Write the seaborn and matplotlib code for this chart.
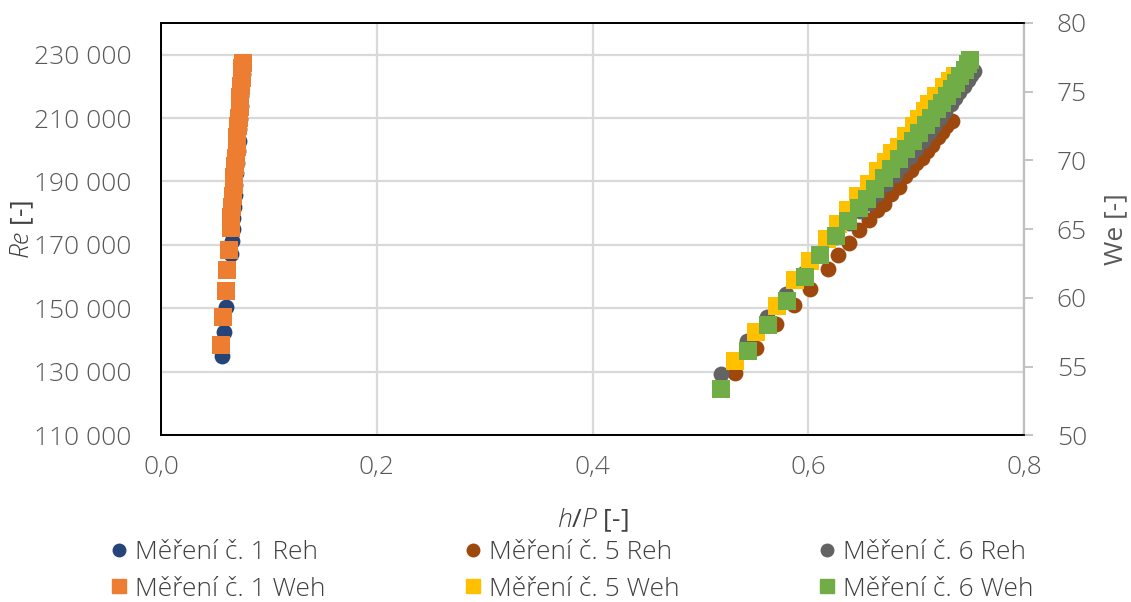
import matplotlib
matplotlib.use("Agg")
from matplotlib import pyplot as plt
from matplotlib.ticker import FuncFormatter, MultipleLocator
from matplotlib.lines import Line2D
import seaborn as sns
import pandas as pd

# Měření č. 1 (left cluster)
m1_reh_x = [0.0568, 0.0584, 0.0599, 0.0645, 0.0654, 0.0663, 0.0668, 0.0677, 0.0684, 0.0690, 0.0698,
            0.0703, 0.0712, 0.0718, 0.0726, 0.0731, 0.0740, 0.0745, 0.0753, 0.0758, 0.0764]
m1_reh_y = [135000, 142400, 150300, 167200, 171300, 175100, 178400, 182100, 185600, 188800, 192700,
            195900, 199600, 202800, 206600, 209800, 213700, 216800, 220600, 223900, 227000]
m1_weh_x = [0.0559, 0.0578, 0.0599, 0.0614, 0.0630, 0.0645, 0.0653, 0.0660, 0.0666, 0.0674, 0.0680,
            0.0688, 0.0693, 0.0701, 0.0707, 0.0715, 0.0720, 0.0729, 0.0734, 0.0743, 0.0748, 0.0755, 0.0759]
m1_weh_y = [56.6, 58.6, 60.5, 62.0, 63.5, 65.1, 65.9, 66.6, 67.4, 68.2, 68.8,
            69.6, 70.2, 71.0, 71.7, 72.5, 73.1, 73.9, 74.6, 75.4, 76.0, 76.7, 77.1]

# Měření č. 5
m5_reh_x = [0.532, 0.552, 0.570, 0.587, 0.602, 0.618, 0.628, 0.638, 0.647, 0.656, 0.664, 0.670,
            0.677, 0.684, 0.690, 0.695, 0.700, 0.705, 0.710, 0.715, 0.720, 0.724, 0.728, 0.733]
m5_reh_y = [129700, 137400, 145000, 151200, 156100, 162500, 166700, 170600, 174600, 177800, 180900, 183000,
            186200, 188300, 191800, 193600, 195700, 197500, 199700, 201600, 203900, 205600, 207500, 209200]
m5_weh_x = [0.532, 0.552, 0.571, 0.588, 0.602, 0.617, 0.628, 0.637, 0.646, 0.656, 0.665, 0.672,
            0.678, 0.684, 0.691, 0.698, 0.703, 0.708, 0.712, 0.718, 0.726, 0.731, 0.736]
m5_weh_y = [55.4, 57.5, 59.4, 61.3, 62.7, 64.3, 65.4, 66.4, 67.4, 68.3, 69.2, 69.9,
            70.5, 71.0, 71.8, 72.5, 73.0, 73.6, 74.1, 74.7, 75.3, 75.8, 76.1]

# Měření č. 6
m6_reh_x = [0.519, 0.543, 0.562, 0.579, 0.596, 0.611, 0.626, 0.638, 0.648, 0.656, 0.664, 0.672, 0.680, 0.687,
            0.694, 0.700, 0.706, 0.712, 0.717, 0.722, 0.727, 0.732, 0.736, 0.740, 0.744, 0.748, 0.751, 0.754]
m6_reh_y = [129300, 139800, 147400, 154600, 161000, 167000, 172400, 176800, 180600, 183100, 186000, 189200,
            192000, 194900, 197700, 200200, 202800, 205300, 207500, 210000, 212300, 214500, 216400, 218300,
            220200, 222100, 223700, 224900]
m6_weh_x = [0.519, 0.544, 0.563, 0.580, 0.597, 0.611, 0.626, 0.637, 0.647, 0.654, 0.662, 0.670, 0.677, 0.684,
            0.691, 0.697, 0.703, 0.709, 0.714, 0.719, 0.724, 0.729, 0.733, 0.737, 0.741, 0.745, 0.748, 0.750]
m6_weh_y = [53.4, 56.1, 58.0, 59.8, 61.5, 63.1, 64.5, 65.6, 66.5, 67.2, 67.9, 68.7, 69.4, 70.1,
            70.8, 71.4, 72.0, 72.6, 73.1, 73.7, 74.2, 74.7, 75.2, 75.6, 76.1, 76.6, 77.0, 77.3]

labels_reh = ["Měření č. 1 Reh", "Měření č. 5 Reh", "Měření č. 6 Reh"]
labels_weh = ["Měření č. 1 Weh", "Měření č. 5 Weh", "Měření č. 6 Weh"]
colors_reh = ["#264478", "#9E480E", "#636363"]
colors_weh = ["#ED7D31", "#FFC000", "#70AD47"]

sns.set_theme(style="white")
plt.rcParams["font.family"] = ["Open Sans", "DejaVu Sans"]
plt.rcParams["font.weight"] = "light"
plt.rcParams["mathtext.fontset"] = "custom"
plt.rcParams["mathtext.rm"] = "Open Sans:light"
plt.rcParams["mathtext.it"] = "Open Sans:italic:light"

txt = "#595959"
fs = 19

fig = plt.figure(figsize=(11.31, 6.02), dpi=100)
ax = fig.add_axes([0.1424, 0.277, 0.763, 0.685])
ax2 = ax.twinx()

reh = [(m1_reh_x, m1_reh_y), (m5_reh_x, m5_reh_y), (m6_reh_x, m6_reh_y)]
weh = [(m1_weh_x, m1_weh_y), (m5_weh_x, m5_weh_y), (m6_weh_x, m6_weh_y)]

for (xs, ys), col in zip(reh, colors_reh):
    df = pd.DataFrame({"x": xs, "y": ys})
    sns.scatterplot(data=df, x="x", y="y", ax=ax, color=col, marker="o", s=130, linewidth=0, zorder=3)
for (xs, ys), col in zip(weh, colors_weh):
    df = pd.DataFrame({"x": xs, "y": ys})
    sns.scatterplot(data=df, x="x", y="y", ax=ax2, color=col, marker="s", s=185, linewidth=0, zorder=3)

ax.set_xlim(0, 0.8)
ax.set_ylim(110000, 240000)
ax2.set_ylim(50, 80)
ax.xaxis.set_major_locator(MultipleLocator(0.2))
ax.set_yticks(range(110000, 240000, 20000))
ax2.yaxis.set_major_locator(MultipleLocator(5))
ax.xaxis.set_major_formatter(FuncFormatter(lambda v, p: f"{v:.1f}".replace(".", ",")))
ax.yaxis.set_major_formatter(FuncFormatter(lambda v, p: f"{int(v):,}".replace(",", " ")))

ax.grid(True, color="#d9d9d9", linewidth=1.6)
ax.set_axisbelow(True)
for a in (ax, ax2):
    for sp in a.spines.values():
        sp.set_color("black")
        sp.set_linewidth(1.3)
ax.spines["right"].set_visible(False)
ax2.spines["right"].set_color("#bfbfbf")
ax2.spines["right"].set_linewidth(1.6)
ax.tick_params(axis="x", length=0, pad=14, labelsize=fs, labelcolor=txt)
ax.tick_params(axis="y", length=0, pad=21.5, labelsize=fs, labelcolor=txt)
ax2.tick_params(axis="y", direction="out", length=6.5, width=1.3, color="#bfbfbf", pad=17,
                labelsize=fs, labelcolor=txt)

ax.set_xlabel(r"$h$/$P$ [-]", fontsize=fs, color="#404040", labelpad=19)
ax.set_ylabel(r"$Re$ [-]", fontsize=fs, color="#404040")
ax.yaxis.set_label_coords(-0.145, 0.5)
ax2.set_ylabel("We [-]", fontsize=fs, color=txt)
ax2.yaxis.set_label_coords(1.0915, 0.5)

handles = []
for lr, cr, lw, cw in zip(labels_reh, colors_reh, labels_weh, colors_weh):
    handles.append(Line2D([], [], linestyle="none", marker="o", markersize=9, color=cr, label=lr))
    handles.append(Line2D([], [], linestyle="none", marker="s", markersize=10, color=cw, label=lw))
fig.legend(handles=handles, loc="lower left", bbox_to_anchor=(0.077, -0.039), ncol=3, frameon=False,
           fontsize=fs, handlelength=0.6, handletextpad=0.3, columnspacing=5.3, labelspacing=0.45,
           labelcolor="#404040")

fig.savefig("out.png", dpi=100)
